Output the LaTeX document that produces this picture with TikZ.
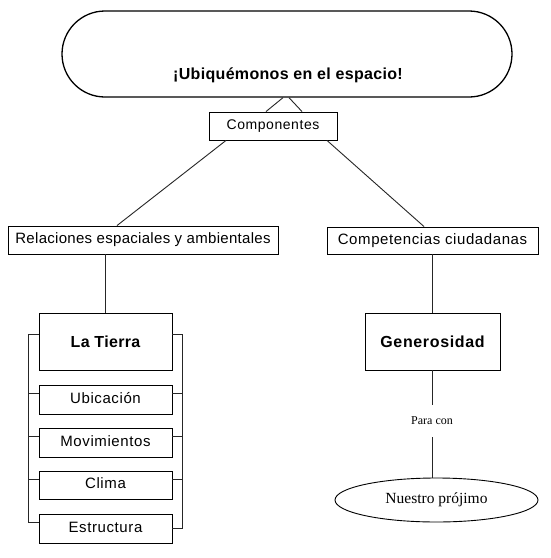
\documentclass[tikz,border=0pt]{standalone}
\usepackage{fontspec}
\setmainfont{Liberation Serif}
\newfontfamily\arialsp{Liberation Sans}[LetterSpace=4]
\newfontfamily\arialss{Liberation Sans}[LetterSpace=2]
\usetikzlibrary{shapes.geometric,calc}
\begin{document}
\begin{tikzpicture}[x=1pt,y=-1pt,
  line width=0.9pt,
  box/.style={draw, rectangle, inner sep=0pt, minimum width=133pt, fill=white},
  sansfs/.style={font=\arialsp\fontsize{15}{15}\selectfont},
  ln/.style={draw=black!85, line width=0.9pt}]
\useasboundingbox (0,0) rectangle (550,558);
\fill[white] (0,0) rectangle (550,558);
% title
\node[draw, line width=1.3pt, rectangle, rounded corners=43pt, minimum width=450pt, minimum height=86pt, inner sep=0pt] (title) at (287,54) {};
\node[font=\arialss\bfseries\fontsize{16}{16}\selectfont, inner sep=0pt] (titletext) at (288,75) {¡Ubiquémonos en el espacio!};
% components
\node[box, minimum width=128pt, minimum height=28pt, font=\arialsp\fontsize{14}{14}\selectfont] (comp) at (273,126) {Componentes};
\node[box, minimum width=270pt, minimum height=28pt, font=\arialss\fontsize{15}{15}\selectfont] (rel) at (143,240) {Relaciones espaciales y ambientales};
\node[box, minimum width=211pt, minimum height=27pt, sansfs] (compet) at (432.5,240.5) {Competencias ciudadanas};
% left column
\node[box, minimum height=57pt, font=\arialss\bfseries\fontsize{16}{16}\selectfont] (tierra) at (105.5,341.5) {La Tierra};
\node[box, minimum height=29pt, sansfs] (ubic) at (105.5,399.5) {\raisebox{3pt}{Ubicación}};
\node[box, minimum height=29pt, sansfs] (movi) at (105.5,442.5) {\raisebox{3pt}{Movimientos}};
\node[box, minimum height=28pt, sansfs] (clima) at (105.5,485) {\raisebox{3pt}{Clima}};
\node[box, minimum height=29pt, sansfs] (estr) at (105.5,528.5) {\raisebox{3pt}{Estructura}};
% right column
\node[box, minimum width=135pt, minimum height=57pt, font=\arialsp\bfseries\fontsize{16}{16}\selectfont] (gen) at (432.5,341.5) {Generosidad};
\node[inner sep=0pt, minimum height=32pt, font=\fontsize{12}{12}\selectfont] (para) at (432,421) {Para con};
\node[draw, ellipse, inner sep=0pt, minimum width=203pt, minimum height=44pt, font=\fontsize{15.5}{15.5}\selectfont] (ell) at (436.5,500) {Nuestro prójimo};
% connectors
\draw[ln] ([xshift=-4pt]title.south) -- ([xshift=-7pt]comp.north);
\draw[ln] ([xshift=2pt]title.south) -- ([xshift=29pt]comp.north);
\draw[ln] ([xshift=-47pt]comp.south) -- ([xshift=-26pt]rel.north);
\draw[ln] ([xshift=54pt]comp.south) -- ([xshift=-8.5pt]compet.north);
\draw[ln] (tierra.north) -- (tierra.north |- rel.south);
\draw[ln] (gen.north) -- (gen.north |- compet.south);
\draw[ln] (gen.south) -- (gen.south |- para.north);
\draw[ln] (para.south) -- (para.south |- ell.north);
% brackets
\draw[ln] ([yshift=7.5pt]tierra.west) -- ++(-10,0) |- ([yshift=6.5pt]estr.west);
\draw[ln] ([yshift=6.5pt]ubic.west) -- ++(-10,0);
\draw[ln] ([yshift=6.5pt]movi.west) -- ++(-10,0);
\draw[ln] ([yshift=6pt]clima.west) -- ++(-10,0);
\draw[ln] ([yshift=7.5pt]tierra.east) -- ++(10,0) |- (estr.east);
\draw[ln] ([yshift=6.5pt]ubic.east) -- ++(10,0);
\draw[ln] ([yshift=6.5pt]movi.east) -- ++(10,0);
\draw[ln] ([yshift=6pt]clima.east) -- ++(10,0);
\end{tikzpicture}
\end{document}
